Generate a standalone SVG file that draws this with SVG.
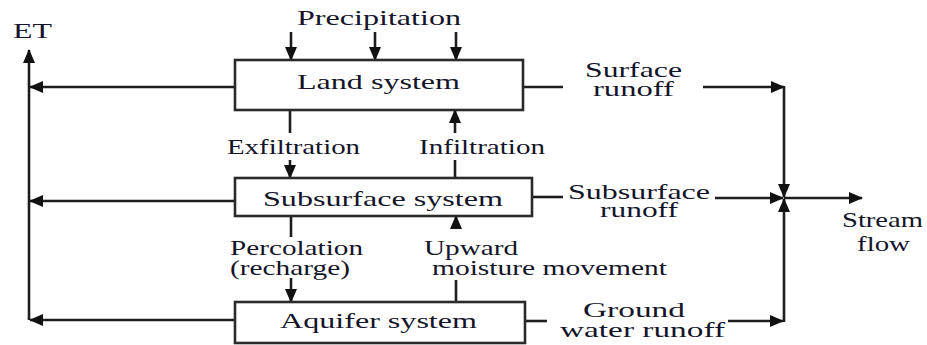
<svg xmlns="http://www.w3.org/2000/svg" width="927" height="345" viewBox="0 0 927 345">
<style>
.box{fill:#fff;stroke:#2a2a2a;stroke-width:2.6}
.ln{fill:none;stroke:#1e1e1e;stroke-width:2.6}
.ar{marker-end:url(#ah)}
text{font-family:"Liberation Serif","Times New Roman",serif;font-size:22px;fill:#14142a}
</style>
<defs>
<marker id="ah" viewBox="0 0 14 12" refX="13" refY="6" markerWidth="14" markerHeight="12" markerUnits="userSpaceOnUse" orient="auto">
<path d="M0,0 L14,6 L0,12 z" fill="#111"/>
</marker>
</defs>
<rect width="927" height="345" fill="#fff"/>
<g id="connectors">
<path class="ln ar" d="M29,320 L29,50"/>
<path class="ln ar" d="M235,87 L30,87"/>
<path class="ln ar" d="M235,201 L30,201"/>
<path class="ln ar" d="M235,320 L30,320"/>
<path class="ln ar" d="M291,32 L291,60"/>
<path class="ln ar" d="M375,32 L375,60"/>
<path class="ln ar" d="M456,32 L456,60"/>
<path class="ln" d="M290,110 L290,133"/>
<path class="ln ar" d="M290,160 L290,178"/>
<path class="ln ar" d="M455,133 L455,110"/>
<path class="ln" d="M455,160 L455,178"/>
<path class="ln" d="M291,216 L291,237"/>
<path class="ln ar" d="M291,278 L291,302"/>
<path class="ln" d="M456,302 L456,280"/>
<path class="ln ar" d="M456,228 L456,216"/>
<path class="ln" d="M523,87 L563,87"/>
<path class="ln ar" d="M703,87 L784,87"/>
<path class="ln ar" d="M784,86 L784,197"/>
<path class="ln" d="M532,197 L563,197"/>
<path class="ln ar" d="M715,198 L783,198"/>
<path class="ln" d="M525,321 L547,321"/>
<path class="ln ar" d="M728,321 L783,321"/>
<path class="ln ar" d="M784,322 L784,199"/>
<path class="ln ar" d="M784,198 L862,198"/>
</g>
<g id="et"><text x="13" y="38" textLength="39" lengthAdjust="spacingAndGlyphs">ET</text></g>
<g id="precipitation"><text x="297" y="25" textLength="164" lengthAdjust="spacingAndGlyphs">Precipitation</text></g>
<g id="land-system">
<rect class="box" x="235" y="60" width="288" height="50"/>
<text x="297" y="89" textLength="163" lengthAdjust="spacingAndGlyphs">Land system</text>
</g>
<g id="subsurface-system">
<rect class="box" x="235" y="178" width="297" height="38"/>
<text x="263" y="206" textLength="240" lengthAdjust="spacingAndGlyphs">Subsurface system</text>
</g>
<g id="aquifer-system">
<rect class="box" x="235" y="302" width="290" height="41"/>
<text x="280" y="328" textLength="197" lengthAdjust="spacingAndGlyphs">Aquifer system</text>
</g>
<g id="labels">
<text x="227" y="154" textLength="133" lengthAdjust="spacingAndGlyphs">Exfiltration</text>
<text x="419" y="154" textLength="126" lengthAdjust="spacingAndGlyphs">Infiltration</text>
<text x="230" y="255" textLength="133" lengthAdjust="spacingAndGlyphs">Percolation</text>
<text x="230" y="275" textLength="120" lengthAdjust="spacingAndGlyphs">(recharge)</text>
<text x="424" y="255" textLength="94" lengthAdjust="spacingAndGlyphs">Upward</text>
<text x="432" y="275" textLength="235" lengthAdjust="spacingAndGlyphs">moisture movement</text>
<text x="585" y="77" textLength="97" lengthAdjust="spacingAndGlyphs">Surface</text>
<text x="593" y="96" textLength="81" lengthAdjust="spacingAndGlyphs">runoff</text>
<text x="568" y="199" textLength="142" lengthAdjust="spacingAndGlyphs">Subsurface</text>
<text x="600" y="217" textLength="78" lengthAdjust="spacingAndGlyphs">runoff</text>
<text x="583" y="317" textLength="102" lengthAdjust="spacingAndGlyphs">Ground</text>
<text x="560" y="337" textLength="165" lengthAdjust="spacingAndGlyphs">water runoff</text>
<text x="842" y="227" textLength="81" lengthAdjust="spacingAndGlyphs">Stream</text>
<text x="857" y="251" textLength="53" lengthAdjust="spacingAndGlyphs">flow</text>
</g>
</svg>
